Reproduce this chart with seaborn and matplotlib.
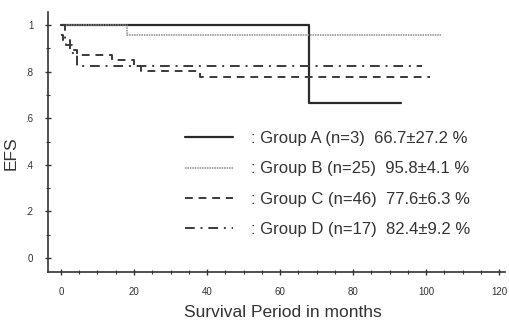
import numpy as np
import pandas as pd
import seaborn as sns
import matplotlib
matplotlib.use("Agg")
import matplotlib.pyplot as plt
from matplotlib.ticker import MultipleLocator, FuncFormatter

sns.set_theme(style="ticks")
plt.rcParams['font.family'] = ['Liberation Sans', 'Noto Sans CJK JP', 'DejaVu Sans']

# Kaplan-Meier steps (months, EFS)
time_a = [0, 68, 93]
efs_a = [1.0, 0.667, 0.667]
time_b = [0, 18, 104]
efs_b = [1.0, 0.958, 0.958]
time_c = [0, 0.5, 1.5, 3, 4.5, 14, 20, 22, 38, 101]
efs_c = [0.957, 0.935, 0.913, 0.891, 0.870, 0.848, 0.826, 0.804, 0.776, 0.776]
time_d = [0, 1, 2.5, 4.5, 99]
efs_d = [1.0, 0.941, 0.882, 0.824, 0.824]

labels = [": Group A (n=3)  66.7±27.2 %",
          ": Group B (n=25)  95.8±4.1 %",
          ": Group C (n=46)  77.6±6.3 %",
          ": Group D (n=17)  82.4±9.2 %"]
styles = [dict(linestyle="-", linewidth=1.6, color="#2a2a2a"),
          dict(linestyle=(0, (1, 0.6)), linewidth=1.1, color="#8a8a8a"),
          dict(linestyle=(0, (4, 3)), linewidth=1.4, color="#3a3a3a"),
          dict(linestyle=(0, (5, 3, 1, 3)), linewidth=1.4, color="#3a3a3a")]

fig = plt.figure(figsize=(5.09, 3.25), dpi=100)
ax = fig.add_axes([0.094, 0.163, 0.898, 0.80])

series = [(time_a, efs_a), (time_b, efs_b), (time_c, efs_c), (time_d, efs_d)]
for (t, s), lab, st in zip(series, labels, styles):
    df = pd.DataFrame({"t": t, "s": s})
    sns.lineplot(data=df, x="t", y="s", drawstyle="steps-post", estimator=None,
                 ax=ax, label=lab, **st)

ax.set_xlim(-3.6, 121.6)
ax.set_ylim(-0.06, 1.056)
ax.xaxis.set_major_locator(MultipleLocator(20))
ax.xaxis.set_minor_locator(MultipleLocator(5))
ax.yaxis.set_major_locator(MultipleLocator(0.2))
ax.yaxis.set_minor_locator(MultipleLocator(0.1))
ax.yaxis.set_major_formatter(FuncFormatter(
    lambda v, p: "0" if abs(v) < 1e-9 else ("1" if abs(v - 1) < 1e-9 else f"{v:.1f}".lstrip("0"))))
ax.tick_params(axis="both", which="major", direction="inout", length=5, width=1,
               labelsize=7, colors="#333333", pad=8)
ax.tick_params(axis="both", which="minor", direction="inout", length=3, width=0.8, colors="#333333")
for sp in ["top", "right"]:
    ax.spines[sp].set_visible(False)
for sp in ["left", "bottom"]:
    ax.spines[sp].set_color("#333333")
    ax.spines[sp].set_linewidth(1.2)

ax.set_xlabel("Survival Period in months", fontsize=12.5, color="#333333")
ax.set_ylabel("EFS", fontsize=12.5, color="#333333")
ax.xaxis.set_label_coords(0.514, -0.125)
ax.yaxis.set_label_coords(-0.065, 0.458)

ax.legend(loc="upper left", bbox_to_anchor=(0.363, 0.596), bbox_transform=fig.transFigure,
          frameon=False, fontsize=12, handlelength=2.9, handletextpad=1.1,
          labelspacing=0.91, borderpad=0, borderaxespad=0, labelcolor="#333333")

fig.savefig("out.png", dpi=100)
